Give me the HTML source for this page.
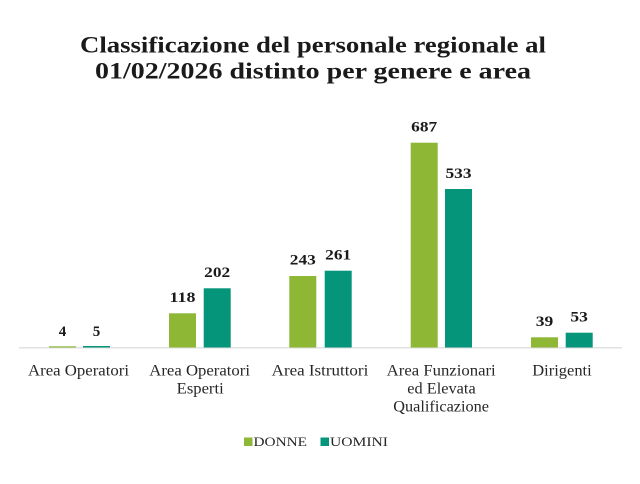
<!DOCTYPE html>
<html><head><meta charset="utf-8"><style>
html,body{margin:0;padding:0;background:#fff;}
svg{display:block;}
</style></head><body>
<svg width="640" height="484" viewBox="0 0 640 484" xmlns="http://www.w3.org/2000/svg">
<rect width="640" height="484" fill="#fff"/>
<g font-family="'Liberation Serif', serif" fill="#1a1a1a">
<text x="80" y="52.5" font-size="23.5" font-weight="bold" textLength="466" lengthAdjust="spacingAndGlyphs">Classificazione del personale regionale al</text>
<text x="95" y="78.5" font-size="23.5" font-weight="bold" textLength="436" lengthAdjust="spacingAndGlyphs">01/02/2026 distinto per genere e area</text>
</g>
<line x1="19" y1="347.8" x2="622" y2="347.8" stroke="#d9d9d9" stroke-width="1.2"/>
<g>
<rect x="49" y="346.3" width="27" height="1.2" fill="#8db735"/>
<rect x="83" y="346" width="27" height="1.5" fill="#04957a"/>
<rect x="169" y="313.3" width="27" height="34.2" fill="#8db735"/>
<rect x="203.7" y="288.3" width="27" height="59.2" fill="#04957a"/>
<rect x="289.3" y="276" width="27" height="71.5" fill="#8db735"/>
<rect x="324.7" y="270.7" width="27" height="76.8" fill="#04957a"/>
<rect x="410.7" y="142.7" width="27" height="204.8" fill="#8db735"/>
<rect x="445" y="189" width="27" height="158.5" fill="#04957a"/>
<rect x="531" y="337.3" width="27" height="10.2" fill="#8db735"/>
<rect x="565.7" y="332.7" width="27" height="14.8" fill="#04957a"/>
</g>
<g font-family="'Liberation Serif', serif" font-size="15" font-weight="bold" fill="#1a1a1a" text-anchor="middle">
<text x="62.5" y="336">4</text>
<text x="96.5" y="336">5</text>
<text x="182.5" y="302" textLength="26" lengthAdjust="spacingAndGlyphs">118</text>
<text x="217.2" y="277" textLength="26" lengthAdjust="spacingAndGlyphs">202</text>
<text x="302.8" y="264.5" textLength="26" lengthAdjust="spacingAndGlyphs">243</text>
<text x="338.2" y="259.3" textLength="26" lengthAdjust="spacingAndGlyphs">261</text>
<text x="424.2" y="131.7" textLength="26" lengthAdjust="spacingAndGlyphs">687</text>
<text x="458.5" y="178" textLength="26" lengthAdjust="spacingAndGlyphs">533</text>
<text x="544.5" y="326" textLength="17.5" lengthAdjust="spacingAndGlyphs">39</text>
<text x="579.2" y="321.5" textLength="17.5" lengthAdjust="spacingAndGlyphs">53</text>
</g>
<g font-family="'Liberation Serif', serif" font-size="16" fill="#262626">
<text x="28" y="375.5" textLength="101" lengthAdjust="spacingAndGlyphs">Area Operatori</text>
<text x="149.3" y="375.5" textLength="100.7" lengthAdjust="spacingAndGlyphs">Area Operatori</text>
<text x="176.7" y="393.5" textLength="47" lengthAdjust="spacingAndGlyphs">Esperti</text>
<text x="271.7" y="375.5" textLength="96.6" lengthAdjust="spacingAndGlyphs">Area Istruttori</text>
<text x="386.7" y="375.5" textLength="109" lengthAdjust="spacingAndGlyphs">Area Funzionari</text>
<text x="407.3" y="393.5" textLength="68.4" lengthAdjust="spacingAndGlyphs">ed Elevata</text>
<text x="393.3" y="411.5" textLength="95.7" lengthAdjust="spacingAndGlyphs">Qualificazione</text>
<text x="532.3" y="375.5" textLength="59.4" lengthAdjust="spacingAndGlyphs">Dirigenti</text>
</g>
<rect x="244" y="437.5" width="8.5" height="8.5" fill="#8db735"/>
<rect x="320.5" y="437.5" width="8.5" height="8.5" fill="#04957a"/>
<g font-family="'Liberation Serif', serif" font-size="13" fill="#262626">
<text x="253.5" y="446" textLength="53.5" lengthAdjust="spacingAndGlyphs">DONNE</text>
<text x="330" y="446" textLength="58" lengthAdjust="spacingAndGlyphs">UOMINI</text>
</g>
</svg>
</body></html>
